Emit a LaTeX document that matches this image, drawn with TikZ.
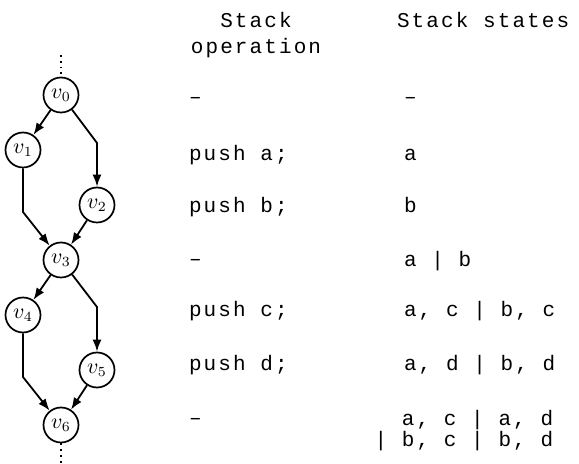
\documentclass[tikz,border=0pt]{standalone}
\usepackage{fontspec}
\newfontfamily\cour[LetterSpace=10]{Liberation Mono}
\usetikzlibrary{arrows.meta}
\begin{document}
\begin{tikzpicture}[x=0.5pt,y=-0.5pt,
  vert/.style={circle,draw,line width=0.85pt,inner sep=0pt,minimum size=17.5pt,font=\fontsize{10.5}{12}\selectfont},
  edge/.style={line width=0.9pt,-{Latex[length=6pt,width=4.5pt]}},
  dots/.style={line width=0.9pt,dotted},
  txt/.style={inner sep=0pt,outer sep=0pt,font=\cour\fontsize{10.5}{12}\selectfont}]
\useasboundingbox (0,0) rectangle (579,464);
% graph
\node[vert] (v0) at (61,95) {$v_0$};
\node[vert] (v1) at (23,150) {$v_1$};
\node[vert] (v2) at (97,205) {$v_2$};
\node[vert] (v3) at (61,260) {$v_3$};
\node[vert] (v4) at (23,315) {$v_4$};
\node[vert] (v5) at (97,370) {$v_5$};
\node[vert] (v6) at (61,425) {$v_6$};
\coordinate (top) at (61,55);
\coordinate (bot) at (61,464);
\coordinate (c02) at (97,143);
\coordinate (c13) at (23,212);
\coordinate (c35) at (97,307);
\coordinate (c46) at (23,377);
\draw[dots] (top) -- (v0);
\draw[dots] (v6) -- (bot);
\draw[edge] (v0) -- (v1);
\draw[edge] (v0) -- (c02) -- (v2);
\draw[edge] (v1) -- (c13) -- (v3);
\draw[edge] (v2) -- (v3);
\draw[edge] (v3) -- (v4);
\draw[edge] (v3) -- (c35) -- (v5);
\draw[edge] (v4) -- (c46) -- (v6);
\draw[edge] (v5) -- (v6);
% headers
\node[txt,anchor=base] (h1) at (256,28) {\fontsize{10.5}{13}\selectfont\begin{tabular}[t]{@{}c@{}}Stack\\operation\end{tabular}};
\node[txt,anchor=base west] (h2) at (397,28) {Stack states};
% operations
\node[txt,anchor=base west] (o0) at (189,104) {–};
\node[txt,anchor=base west] (o1) at (189,161) {push a;};
\node[txt,anchor=base west] (o2) at (189,213) {push b;};
\node[txt,anchor=base west] (o3) at (189,266) {–};
\node[txt,anchor=base west] (o4) at (189,317) {push c;};
\node[txt,anchor=base west] (o5) at (189,371) {push d;};
\node[txt,anchor=base west] (o6) at (189,425) {–};
% states
\node[txt,anchor=base west] (s0) at (404,104) {–};
\node[txt,anchor=base west] (s1) at (404,161) {a};
\node[txt,anchor=base west] (s2) at (404,213) {b};
\node[txt,anchor=base west] (s3) at (404,267) {a | b};
\node[txt,anchor=base west] (s4) at (404,317) {a, c | b, c};
\node[txt,anchor=base west] (s5) at (404,371) {a, d | b, d};
\node[txt,anchor=base west] (s6) at (374.6,426) {\fontsize{10.5}{9.5}\selectfont\begin{tabular}[t]{@{}r@{}}a, c | a, d\\| b, c | b, d\end{tabular}};
\end{tikzpicture}
\end{document}
